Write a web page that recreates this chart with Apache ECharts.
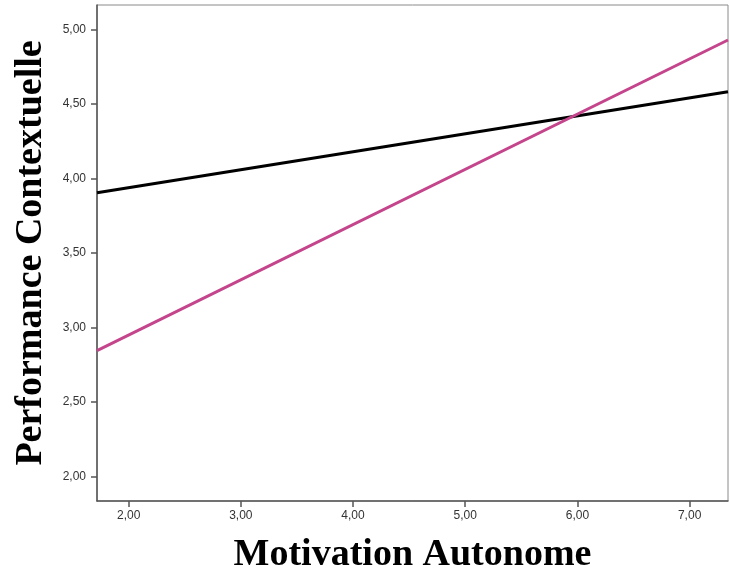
<!DOCTYPE html>
<html>
<head>
<meta charset="utf-8">
<script src="https://cdn.jsdelivr.net/npm/echarts@6/dist/echarts.min.js"></script>
<style>
html,body{margin:0;padding:0;background:#fff;}
#chart{width:730px;height:574px;}
</style>
</head>
<body>
<div id="chart"></div>
<script>
// Axis ranges and ticks
const xRange = [1.718, 7.342];
const yRange = [1.834, 5.163];
const xTicks = [2, 3, 4, 5, 6, 7];
const yTicks = [2.0, 2.5, 3.0, 3.5, 4.0, 4.5, 5.0];
// Fit lines (endpoints at plot edges)
const lineX = [1.718, 7.342];
const blackY = [3.903, 4.581];
const pinkY = [2.843, 4.928];

const fmt = v => Number(v).toFixed(2).replace('.', ',');
const toPts = (xs, ys) => xs.map((x, i) => [x, ys[i]]);

const chart = echarts.init(document.getElementById('chart'));
chart.setOption({
  animation: false,
  backgroundColor: '#fff',
  grid: { left: 97, top: 5, right: 2, bottom: 73, outerBoundsMode: 'none', containLabel: false, show: true, borderColor: '#8a8a8a', borderWidth: 1, backgroundColor: '#fff' },
  xAxis: {
    type: 'value', min: xRange[0], max: xRange[1],
    name: 'Motivation Autonome', nameLocation: 'middle', nameGap: 35,
    nameTextStyle: { fontFamily: 'Liberation Serif', fontWeight: 'bold', fontSize: 38, color: '#000' },
    axisLine: { show: true, lineStyle: { color: '#555', width: 1.5 } },
    axisTick: { show: true, length: 6, lineStyle: { color: '#555', width: 1.5 }, customValues: xTicks },
    axisLabel: { customValues: xTicks, formatter: fmt, fontFamily: 'Liberation Sans', fontSize: 12, color: '#333', margin: 9 },
    splitLine: { show: false }
  },
  yAxis: {
    type: 'value', min: yRange[0], max: yRange[1],
    name: 'Performance Contextuelle', nameLocation: 'middle', nameGap: 47,
    nameTextStyle: { fontFamily: 'Liberation Serif', fontWeight: 'bold', fontSize: 38, color: '#000' },
    axisLine: { show: true, lineStyle: { color: '#555', width: 1.5 } },
    axisTick: { show: true, length: 6, lineStyle: { color: '#555', width: 1.5 }, customValues: yTicks },
    axisLabel: { customValues: yTicks, formatter: fmt, fontFamily: 'Liberation Sans', fontSize: 12, color: '#333', margin: 11 },
    splitLine: { show: false }
  },
  series: [
    { type: 'line', data: toPts(lineX, blackY), showSymbol: false, symbol: 'none', lineStyle: { color: '#000', width: 3 } },
    { type: 'line', data: toPts(lineX, pinkY), showSymbol: false, symbol: 'none', lineStyle: { color: '#c4458c', width: 3 } }
  ]
});
</script>
</body>
</html>
